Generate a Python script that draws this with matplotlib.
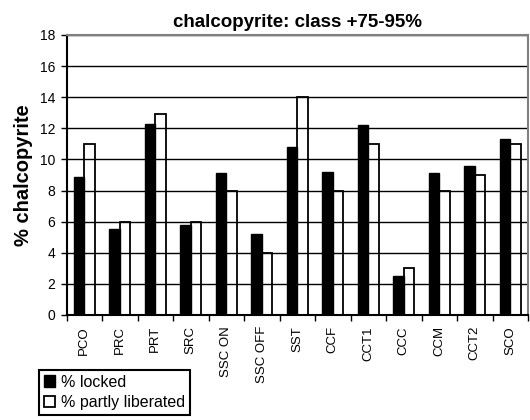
import matplotlib
matplotlib.use("Agg")
import matplotlib.pyplot as plt
import numpy as np

categories = ["PCO", "PRC", "PRT", "SRC", "SSC ON", "SSC OFF", "SST",
              "CCF", "CCT1", "CCC", "CCM", "CCT2", "SCO"]
locked = [8.9, 5.5, 12.3, 5.8, 9.1, 5.2, 10.8, 9.2, 12.2, 2.5, 9.1, 9.6, 11.3]
partly_liberated = [11.0, 6.0, 12.9, 6.0, 8.0, 4.0, 14.0, 8.0, 11.0, 3.0, 8.0, 9.0, 11.0]
yticks = [0, 2, 4, 6, 8, 10, 12, 14, 16, 18]

plt.rcParams['font.family'] = ['Liberation Sans', 'DejaVu Sans']

fig = plt.figure(figsize=(5.3, 4.2), dpi=100)
ax = fig.add_axes([66.5 / 530, 1 - 315 / 420, (528 - 66.5) / 530, 280 / 420])

x = np.arange(len(categories))
w = 0.3
ax.bar(x - w / 2, locked, width=w, color='black', edgecolor='black',
       linewidth=1.0, label='% locked', zorder=3)
ax.bar(x + w / 2, partly_liberated, width=w, facecolor='none', edgecolor='black',
       linewidth=1.3, label='% partly liberated', zorder=3)

ax.set_xlim(-0.5, len(categories) - 0.5)
ax.set_ylim(0, 18)
ax.set_yticks(yticks)
ax.set_yticklabels([str(t) for t in yticks], fontsize=10)
ax.yaxis.grid(True, color='black', linewidth=1.0, zorder=1)
ax.set_axisbelow(True)

ax.set_xticks(x)
ax.set_xticklabels(categories, rotation=90, fontsize=9.5)
ax.set_xticks(np.arange(len(categories) + 1) - 0.5, minor=True)
ax.tick_params(axis='x', which='major', length=0, pad=8)
ax.tick_params(axis='x', which='minor', length=4, width=1.0, direction='out')
ax.tick_params(axis='y', length=4, width=1.0, direction='out', pad=4)

for s in ['left', 'bottom']:
    ax.spines[s].set_color('black')
    ax.spines[s].set_linewidth(1.5)
for s in ['top', 'right']:
    ax.spines[s].set_color('#808080')
    ax.spines[s].set_linewidth(1.5)

ax.set_title("chalcopyrite: class +75-95%", fontsize=13.5, fontweight='bold', pad=6)
ax.set_ylabel("% chalcopyrite", fontsize=14.5, fontweight='bold', labelpad=5)

leg = fig.legend(loc='lower left', bbox_to_anchor=(39 / 530, 1 - 415 / 420),
                 fontsize=11.5, frameon=True, fancybox=False, edgecolor='black',
                 framealpha=1.0,
                 handlelength=0.7, handleheight=0.7, handletextpad=0.4,
                 borderpad=0.3, labelspacing=0.35, borderaxespad=0)
leg.get_frame().set_linewidth(1.5)

fig.savefig("out.png", dpi=100)
